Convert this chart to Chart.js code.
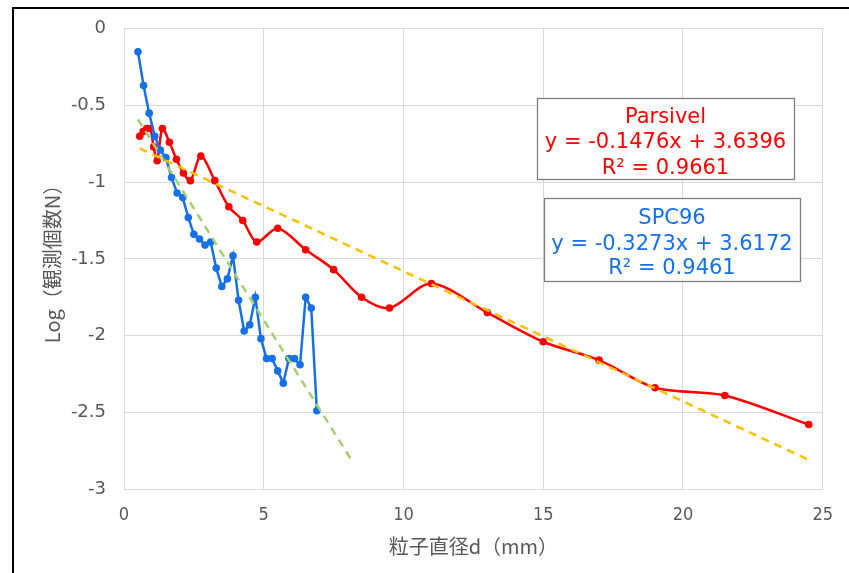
<!DOCTYPE html>
<html>
<head>
<meta charset="utf-8">
<script src="https://cdn.jsdelivr.net/npm/chart.js@4"></script>
<style>
  html, body { margin: 0; padding: 0; background: #ffffff; }
  #wrap { position: relative; width: 849px; height: 573px; }
</style>
</head>
<body>
<div id="wrap"><canvas id="c" width="849" height="573"></canvas></div>
<script>
// ---- data ----
const parsivelD = [0.562, 0.687, 0.812, 0.937, 1.062, 1.187, 1.375, 1.625, 1.875, 2.125, 2.375, 2.75, 3.25, 3.75, 4.25, 4.75, 5.5, 6.5, 7.5, 8.5, 9.5, 11, 13, 15, 17, 19, 21.5, 24.5];
const parsivelLogN = [-0.70, -0.67, -0.65, -0.65, -0.77, -0.86, -0.65, -0.74, -0.85, -0.94, -0.99, -0.83, -0.99, -1.16, -1.25, -1.39, -1.30, -1.44, -1.57, -1.75, -1.82, -1.66, -1.85, -2.04, -2.16, -2.34, -2.39, -2.58];

const spcD = [0.5, 0.7, 0.9, 1.1, 1.3, 1.5, 1.7, 1.9, 2.1, 2.3, 2.5, 2.7, 2.9, 3.1, 3.3, 3.5, 3.7, 3.9, 4.1, 4.3, 4.5, 4.7, 4.9, 5.1, 5.3, 5.5, 5.7, 5.9, 6.1, 6.3, 6.5, 6.7, 6.9];
const spcLogN = [-0.15, -0.37, -0.55, -0.70, -0.79, -0.84, -0.97, -1.07, -1.10, -1.23, -1.34, -1.37, -1.41, -1.39, -1.56, -1.68, -1.63, -1.48, -1.77, -1.97, -1.93, -1.75, -2.02, -2.15, -2.15, -2.23, -2.31, -2.15, -2.15, -2.19, -1.75, -1.82, -2.49];

const parsivelTrendD = [0.562, 24.5];
const parsivelTrendLogN = [-0.78, -2.81];
const spcTrendD = [0.5, 8.1];
const spcTrendLogN = [-0.59, -2.80];

const xTicks = [0, 5, 10, 15, 20, 25];
const yTicks = [0, -0.5, -1, -1.5, -2, -2.5, -3];
const yTickLabels = ['0', '-0.5', '-1', '-1.5', '-2', '-2.5', '-3'];

const parsivelLabel = ['Parsivel', 'y = -0.1476x + 3.6396', 'R\u00B2 = 0.9661'];
const spcLabel = ['SPC96', 'y = -0.3273x + 3.6172', 'R\u00B2 = 0.9461'];

const xTitle = '粒子直径d（mm）';
const yTitle = 'Log（観測個数N）';

// ---- helpers ----
const pts = (xs, ys) => xs.map((x, i) => ({ x: x, y: ys[i] }));
const RED = '#ff0000';
const BLUE = '#1670e6';

const framePlugin = {
  id: 'frameAndLabels',
  afterDraw(chart, args, opts) {
    const ctx = chart.ctx;
    ctx.save();
    // outer frame (left and top visible)
    ctx.fillStyle = '#000000';
    ctx.fillRect(12, 7, 2, 573);
    ctx.fillRect(12, 7, 849, 2);
    // equation boxes
    opts.boxes.forEach(b => {
      ctx.fillStyle = '#ffffff';
      ctx.fillRect(b.rect[0], b.rect[1], b.rect[2] - b.rect[0], b.rect[3] - b.rect[1]);
      ctx.strokeStyle = '#7f7f7f';
      ctx.lineWidth = 1.3;
      ctx.strokeRect(b.rect[0] + 0.5, b.rect[1] + 0.5, b.rect[2] - b.rect[0], b.rect[3] - b.rect[1]);
      ctx.fillStyle = b.color;
      ctx.font = '21px "DejaVu Sans", Verdana, sans-serif';
      ctx.textAlign = 'center';
      ctx.textBaseline = 'alphabetic';
      const cx = (b.rect[0] + b.rect[2]) / 2;
      b.lines.forEach((t, i) => ctx.fillText(t, cx, b.baselines[i]));
    });
    ctx.restore();
  }
};

new Chart(document.getElementById('c'), {
  type: 'scatter',
  data: {
    datasets: [
      {
        label: 'SPC96 trend',
        data: pts(spcTrendD, spcTrendLogN),
        showLine: true,
        borderColor: '#a3d16f',
        borderWidth: 2.5,
        borderDash: [8, 6],
        pointRadius: 0,
        order: 0
      },
      {
        label: 'Parsivel trend',
        data: pts(parsivelTrendD, parsivelTrendLogN),
        showLine: true,
        borderColor: '#ffc000',
        borderWidth: 2.5,
        borderDash: [8, 6],
        pointRadius: 0,
        order: 1
      },
      {
        label: 'SPC96',
        data: pts(spcD, spcLogN),
        showLine: true,
        borderColor: BLUE,
        backgroundColor: BLUE,
        borderWidth: 2.5,
        pointRadius: 3.8,
        pointBorderWidth: 0,
        tension: 0,
        order: 2
      },
      {
        label: 'Parsivel',
        data: pts(parsivelD, parsivelLogN),
        showLine: true,
        borderColor: RED,
        backgroundColor: RED,
        borderWidth: 2.5,
        pointRadius: 3.8,
        pointBorderWidth: 0,
        tension: 0.3,
        order: 3
      }
    ]
  },
  options: {
    responsive: false,
    animation: false,
    devicePixelRatio: 1,
    layout: { padding: { top: 27, right: 25, left: 0, bottom: 0 } },
    plugins: {
      legend: { display: false },
      tooltip: { enabled: false },
      frameAndLabels: {
        boxes: [
          { lines: parsivelLabel, color: RED, rect: [537, 98, 794, 179], baselines: [123, 148, 174] },
          { lines: spcLabel, color: BLUE, rect: [544, 198, 800, 281], baselines: [224, 250, 274] }
        ]
      }
    },
    scales: {
      x: {
        type: 'linear',
        min: 0,
        max: 25,
        afterFit(s) { s.height = 84; },
        afterBuildTicks(s) { s.ticks = xTicks.map(v => ({ value: v })); },
        grid: { color: '#d9d9d9', lineWidth: 1, drawTicks: false },
        border: { color: '#d9d9d9', width: 1 },
        ticks: {
          padding: 16,
          color: '#595959',
          font: { family: '"Liberation Sans Narrow", "DejaVu Sans Condensed", "Liberation Sans", sans-serif', size: 18 },
          maxRotation: 0,
          callback: v => String(v)
        },
        title: {
          display: true,
          text: xTitle,
          color: '#595959',
          font: { family: '"Noto Sans CJK JP", sans-serif', size: 20 },
          padding: { top: 0, bottom: 15 }
        }
      },
      y: {
        type: 'linear',
        min: -3,
        max: 0,
        afterFit(s) { s.width = 124; },
        afterBuildTicks(s) { s.ticks = yTicks.map(v => ({ value: v })); },
        grid: { color: '#d9d9d9', lineWidth: 1, drawTicks: false },
        border: { color: '#d9d9d9', width: 1 },
        ticks: {
          padding: 18,
          color: '#595959',
          font: { family: '"DejaVu Sans", Verdana, sans-serif', size: 18 },
          callback: v => yTickLabels[yTicks.indexOf(v)] ?? String(v)
        },
        title: {
          display: true,
          text: yTitle,
          color: '#595959',
          font: { family: '"Noto Sans CJK JP", sans-serif', size: 20 },
          padding: { top: 40, bottom: 0 }
        }
      }
    }
  },
  plugins: [framePlugin]
});
</script>
</body>
</html>
